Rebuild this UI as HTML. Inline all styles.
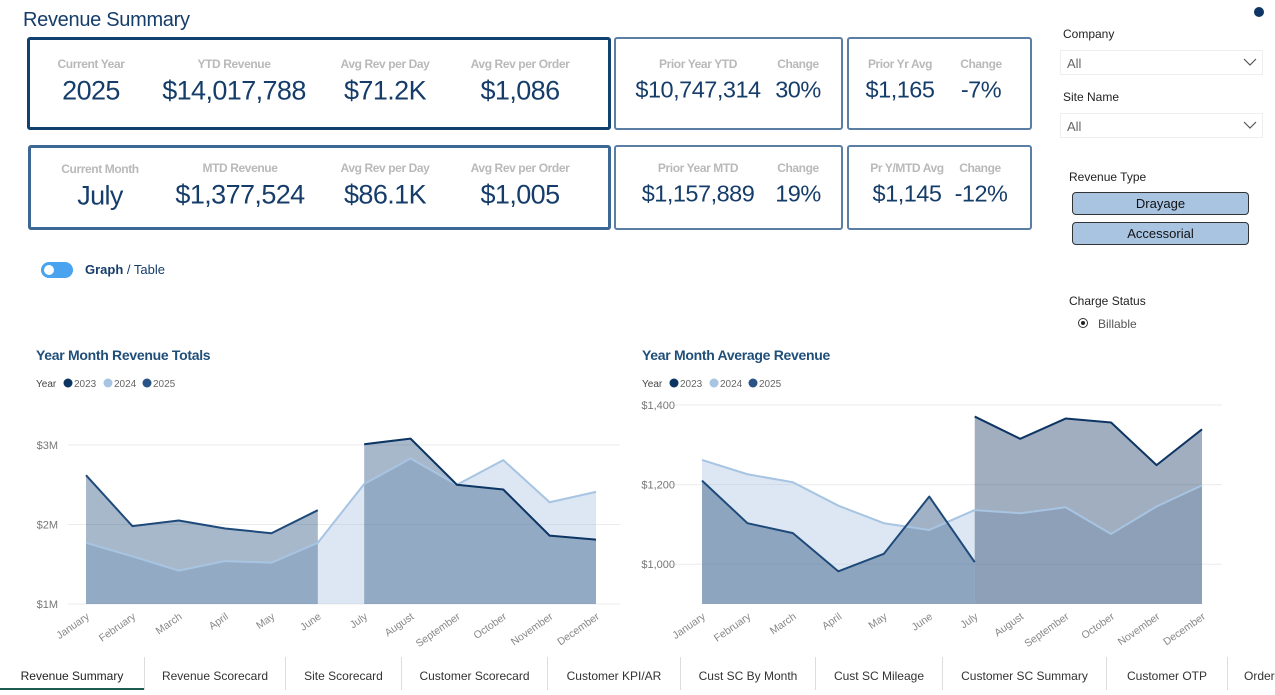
<!DOCTYPE html>
<html><head><meta charset="utf-8">
<style>
*{box-sizing:border-box;margin:0;padding:0}
body{width:1275px;height:693px;background:#fff;font-family:"Liberation Sans",sans-serif;position:relative;overflow:hidden}
.a{position:absolute}
.card{position:absolute;border:2px solid #5b7fa4;border-radius:3px;background:#fff}
.lb{position:absolute;color:#b9b9b9;font-weight:bold;font-size:12px;transform:translateX(-50%);white-space:nowrap;letter-spacing:-0.4px}
.vl{position:absolute;color:#163d6a;font-size:27px;transform:translate(-50%,-50%);white-space:nowrap;letter-spacing:-0.6px}
.v2{font-size:23.5px;letter-spacing:-0.5px}
.tab{position:absolute;top:657px;height:33px;font-size:12px;color:#333;line-height:38px;text-align:center;border-left:1px solid #ddd}
.dd{position:absolute;left:1060px;width:203px;height:25px;border:1px solid #eee;font-size:13px;color:#666;padding:5px 6px}
.btn{position:absolute;left:1072px;width:177px;height:23px;background:#a8c4e1;border:1px solid #333;border-radius:4px;font-size:13px;text-align:center;line-height:21px;color:#111}
.sm{position:absolute;font-size:12px;color:#222}
</style></head><body>
<div class="a" style="left:23px;top:9px;font-size:20px;color:#163d6a;letter-spacing:-0.3px">Revenue Summary</div>
<div class="a" style="left:1254px;top:7px;width:10px;height:10px;border-radius:50%;background:#0e3563"></div>

<div class="card" style="left:27px;top:37px;width:584px;height:93px;border:3px solid #10416f"></div>
<div class="lb" style="left:91px;top:57px">Current Year</div>
<div class="vl" style="left:91px;top:91px">2025</div>
<div class="lb" style="left:234px;top:57px">YTD Revenue</div>
<div class="vl" style="left:234px;top:91px">$14,017,788</div>
<div class="lb" style="left:385px;top:57px">Avg Rev per Day</div>
<div class="vl" style="left:385px;top:91px">$71.2K</div>
<div class="lb" style="left:520px;top:57px">Avg Rev per Order</div>
<div class="vl" style="left:520px;top:91px">$1,086</div>

<div class="card" style="left:614px;top:37px;width:229px;height:93px"></div>
<div class="lb" style="left:698px;top:57px">Prior Year YTD</div>
<div class="vl v2" style="left:698px;top:90px">$10,747,314</div>
<div class="lb" style="left:798px;top:57px">Change</div>
<div class="vl v2" style="left:798px;top:90px">30%</div>
<div class="card" style="left:847px;top:37px;width:185px;height:93px"></div>
<div class="lb" style="left:900px;top:57px">Prior Yr Avg</div>
<div class="vl v2" style="left:900px;top:90px">$1,165</div>
<div class="lb" style="left:981px;top:57px">Change</div>
<div class="vl v2" style="left:981px;top:90px">-7%</div>

<div class="card" style="left:28px;top:145px;width:583px;height:85px;border:3px solid #3d6794"></div>
<div class="lb" style="left:100px;top:162px">Current Month</div>
<div class="vl" style="left:100px;top:196px">July</div>
<div class="lb" style="left:240px;top:161px">MTD Revenue</div>
<div class="vl" style="left:240px;top:195px">$1,377,524</div>
<div class="lb" style="left:385px;top:161px">Avg Rev per Day</div>
<div class="vl" style="left:385px;top:195px">$86.1K</div>
<div class="lb" style="left:520px;top:161px">Avg Rev per Order</div>
<div class="vl" style="left:520px;top:195px">$1,005</div>

<div class="card" style="left:614px;top:145px;width:229px;height:85px"></div>
<div class="lb" style="left:698px;top:161px">Prior Year MTD</div>
<div class="vl v2" style="left:698px;top:194px">$1,157,889</div>
<div class="lb" style="left:798px;top:161px">Change</div>
<div class="vl v2" style="left:798px;top:194px">19%</div>
<div class="card" style="left:847px;top:145px;width:185px;height:85px"></div>
<div class="lb" style="left:907px;top:161px">Pr Y/MTD Avg</div>
<div class="vl v2" style="left:907px;top:194px">$1,145</div>
<div class="lb" style="left:980px;top:161px">Change</div>
<div class="vl v2" style="left:981px;top:194px">-12%</div>

<div class="a" style="left:41px;top:262px;width:32px;height:16px;border-radius:8px;background:#4aa3ef"><div class="a" style="left:3px;top:3px;width:10px;height:10px;border-radius:50%;background:#fff"></div></div>
<div class="a" style="left:85px;top:262px;font-size:13px;color:#163d6a"><b>Graph</b> / Table</div>

<div class="sm" style="left:1063px;top:27px">Company</div>
<div class="dd" style="top:50px">All<svg class="a" style="right:5px;top:7px" width="14" height="9"><polyline points="1,1 7,7 13,1" fill="none" stroke="#555" stroke-width="1.2"/></svg></div>
<div class="sm" style="left:1063px;top:90px">Site Name</div>
<div class="dd" style="top:113px">All<svg class="a" style="right:5px;top:7px" width="14" height="9"><polyline points="1,1 7,7 13,1" fill="none" stroke="#555" stroke-width="1.2"/></svg></div>
<div class="sm" style="left:1069px;top:170px">Revenue Type</div>
<div class="btn" style="top:192px">Drayage</div>
<div class="btn" style="top:222px">Accessorial</div>
<div class="sm" style="left:1069px;top:294px">Charge Status</div>
<div class="a" style="left:1078px;top:318px;width:10px;height:10px;border-radius:50%;border:1px solid #333"><div class="a" style="left:2px;top:2px;width:4px;height:4px;border-radius:50%;background:#222"></div></div>
<div class="sm" style="left:1098px;top:317px;color:#555">Billable</div>

<svg class="a" style="left:0;top:0" width="1275" height="660" id="charts"></svg>

<div class="tab" style="left:0;width:144px;border-left:none;color:#222;border-bottom:2px solid #1d5b4f">Revenue Summary</div>
<div class="tab" style="left:144px;width:141px">Revenue Scorecard</div>
<div class="tab" style="left:285px;width:116px">Site Scorecard</div>
<div class="tab" style="left:401px;width:146px">Customer Scorecard</div>
<div class="tab" style="left:547px;width:133px">Customer KPI/AR</div>
<div class="tab" style="left:680px;width:135px">Cust SC By Month</div>
<div class="tab" style="left:815px;width:127px">Cust SC Mileage</div>
<div class="tab" style="left:942px;width:164px">Customer SC Summary</div>
<div class="tab" style="left:1106px;width:121px">Customer OTP</div>
<div class="tab" style="left:1227px;width:60px;text-align:left;padding-left:16px">Order</div>

<script>
const months=["January","February","March","April","May","June","July","August","September","October","November","December"];
// Left chart: revenue totals ($M)
const totals2023=[null,null,null,null,null,null,3.01,3.08,2.50,2.44,1.86,1.81];
const totals2024=[1.77,1.60,1.42,1.54,1.52,1.77,2.51,2.83,2.50,2.81,2.28,2.41];
const totals2025=[2.62,1.98,2.05,1.95,1.89,2.18,null,null,null,null,null,null];
const totalsTicks=[1,2,3];
const totalsTickLabels=["$1M","$2M","$3M"];
// Right chart: average revenue ($)
const avg2023=[null,null,null,null,null,null,1371,1315,1366,1356,1249,1339];
const avg2024=[1262,1226,1206,1147,1103,1086,1136,1128,1143,1076,1145,1198];
const avg2025=[1210,1103,1078,982,1026,1170,1005,null,null,null,null,null];
const avgTicks=[1000,1200,1400];
const avgTickLabels=["$1,000","$1,200","$1,400"];

const NS="http://www.w3.org/2000/svg";
const svg=document.getElementById('charts');
function mk(tag,attrs,parent){const e=document.createElementNS(NS,tag);for(const k in attrs)e.setAttribute(k,attrs[k]);(parent||svg).appendChild(e);return e;}

function chart(cfg){
  const g=mk('g',{});
  
  
  const x=i=>cfg.x0+i*(cfg.x1-cfg.x0)/11;
  const y=v=>cfg.yb-(v-cfg.vmin)*(cfg.yb-cfg.yt)/(cfg.vmax-cfg.vmin);
  const t=mk('text',{x:cfg.tx,y:360,'font-size':14,'font-weight':'bold',fill:'#1f4e79','letter-spacing':'-0.3'},g);t.textContent=cfg.title;
  
  
  const lg=mk('g',{},g);
  
  
  const lt=mk('text',{x:cfg.tx,y:387,'font-size':10,fill:'#444'},lg);lt.textContent='Year';
  const lc=[['2023','#0d3563',cfg.tx+32],['2024','#a7c4e2',cfg.tx+72],['2025','#2a5486',cfg.tx+111]];
  lc.forEach(c=>{const d=mk('circle',{cx:c[2],cy:383,r:4.5,fill:c[1]},lg);
    
    
    const tt=mk('text',{x:c[2]+6,y:387,'font-size':10,fill:'#666'},lg);tt.textContent=c[0];});
  cfg.ticks.forEach((tv,i)=>{
    const gl=mk('line',{x1:cfg.gx0,x2:cfg.gx1,y1:y(tv),y2:y(tv),stroke:'#ebebeb','stroke-width':1},g);
    
    
    const tl=mk('text',{x:cfg.lx,y:y(tv)+4,'font-size':11,fill:'#777','text-anchor':'end'},g);tl.textContent=cfg.tickLabels[i];
    
    
  });
  cfg.series.forEach(s=>{
    const idx=s.data.map((v,i)=>v==null?null:i).filter(v=>v!=null);
    let d='M'+x(idx[0])+','+cfg.yb;
    idx.forEach(i=>d+=' L'+x(i)+','+y(s.data[i]));
    d+=' L'+x(idx[idx.length-1])+','+cfg.yb+' Z';
    const a=mk('path',{d:d,fill:s.fill,'fill-opacity':s.op},g);
    
    
  });
  cfg.series.forEach(s=>{
    const pts=s.data.map((v,i)=>v==null?null:x(i)+','+y(v)).filter(p=>p);
    const l=mk('polyline',{points:pts.join(' '),fill:'none',stroke:s.stroke,'stroke-width':2,'stroke-linejoin':'round'},g);
    
    
  });
  months.forEach((m,i)=>{
    const px=x(i)+4, py=cfg.yb+14;
    const tx=mk('text',{x:px,y:py,'font-size':10.5,fill:'#888','text-anchor':'end',transform:'rotate(-35 '+px+' '+py+')'},g);
    tx.textContent=m;
    
    
  });
}
chart({name:'revenue-totals-chart',title:'Year Month Revenue Totals',tx:36,x0:86,x1:596,yt:445,yb:604,vmin:1,vmax:3,gx0:68,gx1:620,lx:58,
  ticks:totalsTicks,tickLabels:totalsTickLabels,
  series:[{year:'2024',data:totals2024,fill:'#a7c4e2',op:0.4,stroke:'#a7c4e2'},
          {year:'2025',data:totals2025,fill:'#2e5583',op:0.42,stroke:'#1e4a7a'},
          {year:'2023',data:totals2023,fill:'#2e5583',op:0.42,stroke:'#0d3563'}]});
chart({name:'average-revenue-chart',title:'Year Month Average Revenue',tx:642,x0:702,x1:1202,yt:405,yb:604,vmin:900,vmax:1400,gx0:672,gx1:1222,lx:675,
  ticks:avgTicks,tickLabels:avgTickLabels,
  series:[{year:'2024',data:avg2024,fill:'#a7c4e2',op:0.4,stroke:'#a7c4e2'},
          {year:'2025',data:avg2025,fill:'#2e5583',op:0.45,stroke:'#1e4a7a'},
          {year:'2023',data:avg2023,fill:'#1f3e66',op:0.42,stroke:'#0d3563'}]});
</script>
</body></html>
